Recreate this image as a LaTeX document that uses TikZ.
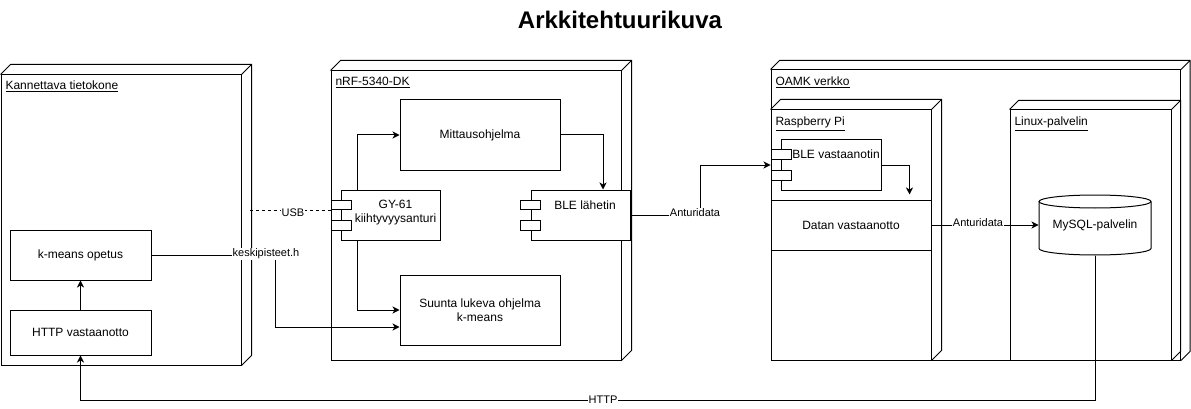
\documentclass[tikz,border=0pt]{standalone}
\usepackage{fontspec}
\setmainfont{Liberation Sans}
\usetikzlibrary{arrows.meta,calc}
\tikzset{
  box/.style={draw, fill=white, inner sep=0pt, font=\fontsize{12}{14}\selectfont, align=center},
  portbox/.style={draw, fill=white, inner sep=0pt, minimum width=20pt},
  txt/.style={inner sep=0pt, font=\fontsize{12}{14}\selectfont, align=center},
  elbl/.style={font=\fontsize{11}{13}\selectfont, fill=white, inner sep=0.5pt},
  arr/.style={-{Stealth[length=7pt,width=7pt,inset=2pt]}},
  ndlbl/.style={font=\fontsize{12}{14}\selectfont, anchor=base west, inner sep=0pt},
  ttl/.style={font=\fontsize{24}{28}\selectfont\bfseries, inner sep=0pt},
}
\newcommand{\depthfaces}[2]{%
  \draw (#1.north west) -- ++(#2,-#2) -- ($(#1.north east)+(#2,-#2)$) -- ($(#1.south east)+(#2,-#2)$) -- (#1.south east)
        (#1.north east) -- ++(#2,-#2);}
\begin{document}
\begin{tikzpicture}[x=1pt,y=-1pt,line width=1pt]
\useasboundingbox (0,0) rectangle (1191,409);

\node[ttl] (title) at (620,20) {Arkkitehtuurikuva};

% ---- Kannettava tietokone
\node[box, minimum width=240pt, minimum height=290pt] (kan) at (121,220) {};
\depthfaces{kan}{10}
\node[ndlbl] (kanL) at (5,90) {\underline{Kannettava tietokone}};
\node[box, minimum width=141pt, minimum height=50pt] (kmeans) at (80.5,255) {k-means opetus};
\node[box, minimum width=141pt, minimum height=45pt] (http) at (80.5,332.5) {HTTP vastaanotto};

% ---- nRF-5340-DK
\node[box, minimum width=290pt, minimum height=289pt] (nrf) at (476,215.5) {};
\depthfaces{nrf}{10}
\node[ndlbl] (nrfL) at (335,86) {\underline{nRF-5340-DK}};
\node[box, minimum width=160pt, minimum height=70pt] (mitt) at (480,135) {Mittausohjelma};
\node[box, minimum width=160pt, minimum height=70pt] (suunta) at (480,310) {Suunta lukeva ohjelma\\k-means};
% GY-61 component
\node[box, minimum width=99pt, minimum height=50pt] (gy) at (390.5,215) {};
\node[portbox, minimum height=9pt] (gyp1) at (341,204.5) {};
\node[portbox, minimum height=10pt] (gyp2) at (341,225) {};
\node[txt] (gyT) at (395.5,212.5) {GY-61\\kiihtyvyysanturi};
% BLE lahetin component
\node[box, minimum width=99pt, minimum height=50pt] (ble) at (580.5,215) {};
\node[portbox, minimum height=9pt] (blep1) at (530,204.5) {};
\node[portbox, minimum height=10pt] (blep2) at (530,225) {};
\node[txt, anchor=base] (bleT) at (585,209) {BLE lähetin};

% ---- OAMK verkko
\node[box, minimum width=409.5pt, minimum height=290pt] (oamk) at (975.75,215) {};
\depthfaces{oamk}{9}
\node[ndlbl] (oamkL) at (775,86) {\underline{OAMK verkko}};
% Raspberry Pi
\node[box, minimum width=160pt, minimum height=250pt] (rpi) at (851,235) {};
\depthfaces{rpi}{10}
\node[ndlbl] (rpiL) at (775,126) {\underline{Raspberry Pi}};
\node[box, minimum width=100pt, minimum height=50pt] (blev) at (831,165) {};
\node[portbox, minimum height=9pt] (blevp1) at (781,154.5) {};
\node[portbox, minimum height=10pt] (blevp2) at (781,175) {};
\node[txt, anchor=base] (blevT) at (836,158) {BLE vastaanotin};
\node[box, minimum width=160pt, minimum height=50pt] (datan) at (851,225) {Datan vastaanotto};
% Linux-palvelin
\node[box, minimum width=161pt, minimum height=250pt] (linux) at (1090.5,235) {};
\depthfaces{linux}{9}
\node[ndlbl] (linuxL) at (1014,126) {\underline{Linux-palvelin}};
% MySQL cylinder
\node[inner sep=0pt, minimum width=112pt, minimum height=60pt] (mysql) at (1095,225) {};
\draw[fill=white] (1039,201.5) -- (1039,248.5) arc[start angle=180, end angle=0, x radius=56, y radius=6.5] -- (1151,201.5);
\draw[fill=white] (1095,201.5) ellipse[x radius=56, y radius=6.5];
\node[txt] (mysqlT) at (1095,225) {MySQL-palvelin};

% ---- connectors
\draw[arr] (http.north) -- (kmeans.south);
\draw[arr] ([xshift=17pt]gy.north west) |- (mitt.west);
\draw[arr] ([xshift=17pt]gy.south west) |- (suunta.west);
\draw[arr] (mitt.east) -| ([xshift=22.5pt]ble.north);
\coordinate (usbS) at (250,210);
\draw[dashed] (usbS) -- (usbS -| gyp1.west);
\node[elbl] (usbL) at (293,213) {USB};
\draw[arr] (kmeans.east) -- (275,255) |- ([yshift=-17pt]suunta.west);
\node[elbl] (keskL) at (266,254) {keskipisteet.h};
\draw[arr] (ble.east) -- (700,215) |- (blev.west -| blevp1.west);
\node[elbl] (ant1L) at (695,212.5) {Anturidata};
\draw[arr] (blev.east) -| ([xshift=-22pt,yshift=5pt]datan.north east);
\draw[arr] (datan.east) -- (mysql.west);
\node[elbl] (ant2L) at (978,223) {Anturidata};
\draw[arr] (mysql.south) -- (1095,400) -| (http.south);
\node[elbl] (httpL) at (603,400) {HTTP};
\end{tikzpicture}
\end{document}
